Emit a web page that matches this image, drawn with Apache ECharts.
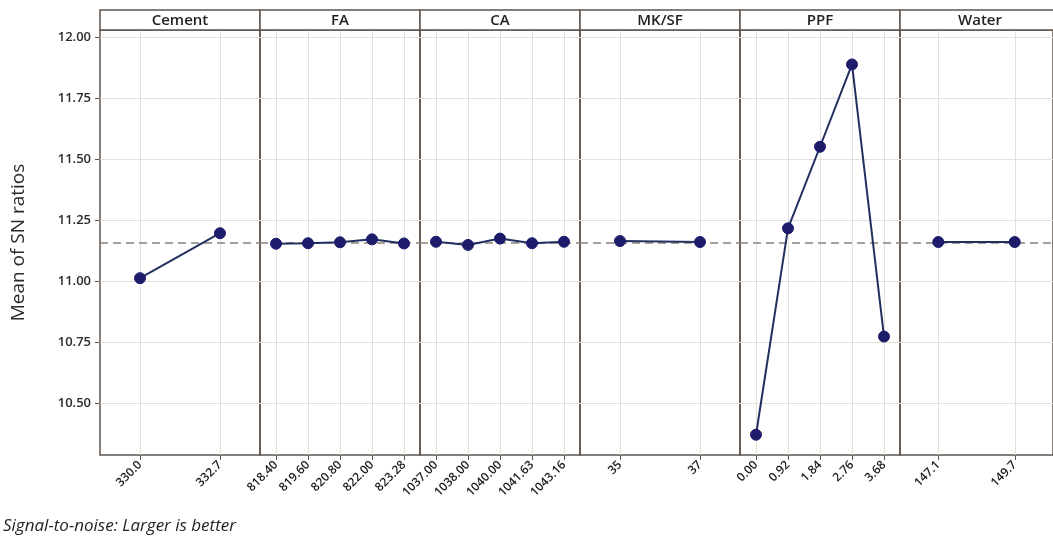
<!DOCTYPE html>
<html>
<head>
<meta charset="utf-8">
<script src="https://cdn.jsdelivr.net/npm/echarts@6/dist/echarts.min.js"></script>
<style>
html,body{margin:0;padding:0;background:#fff;}
#chart{width:1053px;height:539px;}
</style>
</head>
<body>
<div id="chart"></div>
<script>
// ---- data ----
const panelNames = ['Cement', 'FA', 'CA', 'MK/SF', 'PPF', 'Water'];
const cementLevels = ['330.0', '332.7'];
const cementSN = [11.014, 11.198];
const faLevels = ['818.40', '819.60', '820.80', '822.00', '823.28'];
const faSN = [11.155, 11.157, 11.161, 11.173, 11.156];
const caLevels = ['1037.00', '1038.00', '1040.00', '1041.63', '1043.16'];
const caSN = [11.163, 11.150, 11.176, 11.157, 11.163];
const mkLevels = ['35', '37'];
const mkSN = [11.166, 11.162];
const ppfLevels = ['0.00', '0.92', '1.84', '2.76', '3.68'];
const ppfSN = [10.373, 11.218, 11.552, 11.889, 10.775];
const waterLevels = ['147.1', '149.7'];
const waterSN = [11.162, 11.162];
const meanSN = 11.161;
const yTicks = [10.5, 10.75, 11.0, 11.25, 11.5, 11.75, 12.0];
const yTitle = 'Mean of SN ratios';
const footnote = 'Signal-to-noise: Larger is better';

// ---- layout ----
const levels = [cementLevels, faLevels, caLevels, mkLevels, ppfLevels, waterLevels];
const values = [cementSN, faSN, caSN, mkSN, ppfSN, waterSN];
const plotLeft = 100, panelW = 160, plotTop = 30, plotH = 425, headTop = 10;
const frameColor = '#5d544c';
const gridColor = '#e4e0dc';
const font = '"Open Sans", "Noto Sans", sans-serif';
const yMin = 10.29, yMax = 12.03;

const grids = [], xAxes = [], yAxes = [], series = [], graphics = [];
panelNames.forEach((name, i) => {
  const left = plotLeft + i * panelW;
  grids.push({left: left, top: plotTop, width: panelW, height: plotH,
    show: true, borderColor: frameColor, borderWidth: 1.5, backgroundColor: 'transparent'});
  xAxes.push({
    type: 'category', gridIndex: i, data: levels[i], boundaryGap: true,
    axisLine: {show: false},
    axisTick: {show: true, alignWithLabel: true, inside: false, length: 5, lineStyle: {color: frameColor, width: 1}},
    splitLine: {show: true, alignWithLabel: true, lineStyle: {color: gridColor, width: 1}},
    axisLabel: {rotate: 45, fontSize: 12, fontWeight: 600, color: '#1a1a1a', margin: 8, fontFamily: font, interval: 0}
  });
  yAxes.push({
    type: 'value', gridIndex: i, min: yMin, max: yMax,
    axisLine: {show: false},
    axisTick: {show: i === 0, length: 5, lineStyle: {color: frameColor}, customValues: yTicks},
    axisLabel: {show: i === 0, fontSize: 13, fontWeight: 600, color: '#2a2a2a', margin: 9, fontFamily: font,
      customValues: yTicks, formatter: v => v.toFixed(2)},
    splitLine: {show: true, lineStyle: {color: gridColor, width: 1}},
    name: i === 0 ? yTitle : '', nameLocation: 'middle', nameGap: 72,
    nameTextStyle: {fontSize: 19, color: '#2a2a2a', fontFamily: font}
  });
  series.push({
    type: 'line', xAxisIndex: i, yAxisIndex: i, data: values[i],
    symbol: 'circle', symbolSize: 11, z: 5,
    itemStyle: {color: '#1c1c6b', borderColor: '#1c1c6b'},
    lineStyle: {color: '#22305f', width: 2},
    markLine: {
      silent: true, symbol: 'none', label: {show: false}, z: 3,
      lineStyle: {color: '#8b8179', type: [8, 5], width: 1.5},
      data: [{yAxis: meanSN}]
    }
  });
  graphics.push({
    type: 'rect', shape: {x: left, y: headTop, width: panelW, height: plotTop - headTop},
    style: {fill: '#fff', stroke: frameColor, lineWidth: 1.5}, z: 10
  });
  graphics.push({
    type: 'text', x: left + panelW / 2, y: headTop + (plotTop - headTop) / 2 + 1,
    style: {text: name, fill: '#1f1f1f', font: '600 15px ' + font, textAlign: 'center', textVerticalAlign: 'middle'}, z: 11
  });
});
graphics.push({
  type: 'text', x: 3, y: 526,
  style: {text: footnote, fill: '#1f1f1f', font: 'italic 17px ' + font, textAlign: 'left', textVerticalAlign: 'middle'}
});

const chart = echarts.init(document.getElementById('chart'), null, {renderer: 'canvas'});
chart.setOption({
  animation: false,
  backgroundColor: '#fff',
  grid: grids, xAxis: xAxes, yAxis: yAxes, series: series, graphic: graphics
});
</script>
</body>
</html>
